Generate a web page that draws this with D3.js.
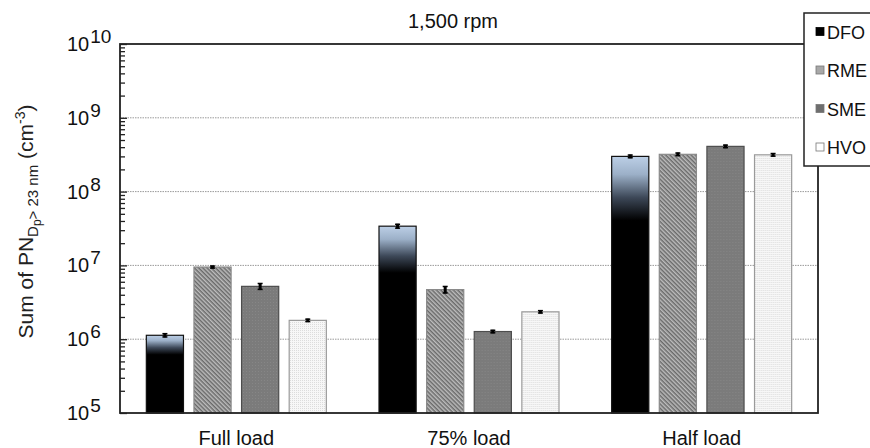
<!DOCTYPE html>
<html>
<head>
<meta charset="utf-8">
<script src="https://cdn.jsdelivr.net/npm/d3@7"></script>
<style>
  body { margin: 0; background: #fff; }
  svg { font-family: "Liberation Sans", Arial, sans-serif; }
</style>
</head>
<body>
<div id="chart"></div>
<script>
// loads and fuels
const loads = ["Full load", "75% load", "Half load"];
const fuels = ["DFO", "RME", "SME", "HVO"];

// sum of PN (cm^-3), one array per fuel, in the order of loads
const dfoValues = [1.13e6, 3.4e7, 3.0e8];
const rmeValues = [9.5e6, 4.7e6, 3.2e8];
const smeValues = [5.2e6, 1.27e6, 4.1e8];
const hvoValues = [1.8e6, 2.35e6, 3.15e8];

// error bars (half-width)
const dfoErrors = [0.04e6, 0.15e7, 0.08e8];
const rmeErrors = [0.15e6, 0.4e6, 0.08e8];
const smeErrors = [0.4e6, 0.03e6, 0.1e8];
const hvoErrors = [0.04e6, 0.05e6, 0.08e8];

const yTicks = [1e5, 1e6, 1e7, 1e8, 1e9, 1e10];

const width = 870;
const height = 448;
const margin = {top: 44, right: 52, bottom: 35, left: 120};
const plotW = width - margin.left - margin.right;
const plotH = height - margin.top - margin.bottom;

const valuesByFuel = {DFO: dfoValues, RME: rmeValues, SME: smeValues, HVO: hvoValues};
const errorsByFuel = {DFO: dfoErrors, RME: rmeErrors, SME: smeErrors, HVO: hvoErrors};

const data = [];
loads.forEach((load, i) => {
  fuels.forEach((fuel) => {
    data.push({load: load, fuel: fuel, value: valuesByFuel[fuel][i], err: errorsByFuel[fuel][i]});
  });
});

const svg = d3.select("#chart")
  .append("svg")
  .attr("width", width)
  .attr("height", height);

const defs = svg.append("defs");

// DFO: light blue top fading into black
const grad = defs.append("linearGradient")
  .attr("id", "dfoGrad")
  .attr("x1", 0).attr("y1", 0).attr("x2", 0).attr("y2", 1);
grad.append("stop").attr("offset", "0%").attr("stop-color", "#bccfe6");
grad.append("stop").attr("offset", "7%").attr("stop-color", "#9cb0c8");
grad.append("stop").attr("offset", "16%").attr("stop-color", "#3d4858");
grad.append("stop").attr("offset", "25%").attr("stop-color", "#000");
grad.append("stop").attr("offset", "100%").attr("stop-color", "#000");

// RME: fine diagonal hatch
const hatch = defs.append("pattern")
  .attr("id", "rmeHatch")
  .attr("patternUnits", "userSpaceOnUse")
  .attr("width", 3).attr("height", 3)
  .attr("patternTransform", "rotate(45)");
hatch.append("rect").attr("width", 3).attr("height", 3).attr("fill", "#bdbdbd");
hatch.append("rect").attr("width", 3).attr("height", 1.5).attr("fill", "#6a6a6a");

// SME: dark grey with faint texture
const smePat = defs.append("pattern")
  .attr("id", "smeTex")
  .attr("patternUnits", "userSpaceOnUse")
  .attr("width", 3).attr("height", 3);
smePat.append("rect").attr("width", 3).attr("height", 3).attr("fill", "#7b7b7b");
smePat.append("rect").attr("width", 1).attr("height", 1).attr("fill", "#868686");

// HVO: almost white with fine dots
const hvoPat = defs.append("pattern")
  .attr("id", "hvoDots")
  .attr("patternUnits", "userSpaceOnUse")
  .attr("width", 2).attr("height", 2);
hvoPat.append("rect").attr("width", 2).attr("height", 2).attr("fill", "#f7f7f7");
hvoPat.append("rect").attr("width", 1).attr("height", 1).attr("fill", "#dcdcdc");

const fillOf = {DFO: "url(#dfoGrad)", RME: "url(#rmeHatch)", SME: "url(#smeTex)", HVO: "url(#hvoDots)"};
const strokeOf = {DFO: "#111", RME: "#8a8a8a", SME: "#4d4d4d", HVO: "#9a9a9a"};
const swatchOf = {DFO: "#000", RME: "#a8a8a8", SME: "#6e6e6e", HVO: "#fff"};

const g = svg.append("g")
  .attr("transform", `translate(${margin.left},${margin.top})`);

// scales
const x0 = d3.scaleBand().domain(loads).range([0, plotW]).padding(0);
const groupSpan = 180;
const x1 = d3.scaleBand()
  .domain(fuels)
  .range([(x0.bandwidth() - groupSpan) / 2, (x0.bandwidth() + groupSpan) / 2])
  .paddingInner(0.22)
  .paddingOuter(0);
const y = d3.scaleLog().domain([1e5, 1e10]).range([plotH, 0]);

// grid lines
g.append("g")
  .selectAll("line")
  .data(yTicks.slice(1, -1))
  .join("line")
  .attr("x1", 0)
  .attr("x2", plotW)
  .attr("y1", (d) => y(d))
  .attr("y2", (d) => y(d))
  .attr("stroke", "#9a9a9a")
  .attr("stroke-width", 1)
  .attr("stroke-dasharray", "1.5,1");

// bars
const groups = g.selectAll(".group")
  .data(loads)
  .join("g")
  .attr("class", "group")
  .attr("transform", (d) => `translate(${x0(d)},0)`);

groups.selectAll("rect")
  .data((load) => data.filter((d) => d.load === load))
  .join("rect")
  .attr("x", (d) => x1(d.fuel))
  .attr("y", (d) => y(d.value))
  .attr("width", x1.bandwidth())
  .attr("height", (d) => plotH - y(d.value))
  .attr("fill", (d) => fillOf[d.fuel])
  .attr("stroke", (d) => strokeOf[d.fuel])
  .attr("stroke-width", 1.2);

// error bars
const errG = groups.selectAll(".err")
  .data((load) => data.filter((d) => d.load === load))
  .join("g")
  .attr("class", "err")
  .attr("transform", (d) => `translate(${x1(d.fuel) + x1.bandwidth() / 2},0)`);

errG.append("line")
  .attr("y1", (d) => y(d.value + d.err) - 1)
  .attr("y2", (d) => y(d.value - d.err) + 1)
  .attr("stroke", "#000")
  .attr("stroke-width", 3);
errG.append("line")
  .attr("x1", -2.5).attr("x2", 2.5)
  .attr("y1", (d) => y(d.value + d.err) - 0.5)
  .attr("y2", (d) => y(d.value + d.err) - 0.5)
  .attr("stroke", "#000")
  .attr("stroke-width", 1.5);
errG.append("line")
  .attr("x1", -2.5).attr("x2", 2.5)
  .attr("y1", (d) => y(d.value - d.err) + 0.5)
  .attr("y2", (d) => y(d.value - d.err) + 0.5)
  .attr("stroke", "#000")
  .attr("stroke-width", 1.5);

// y axis: ticks pointing inward (minor + major)
const minorTicks = y.ticks().filter((t) => yTicks.indexOf(t) < 0);
g.append("g")
  .call(d3.axisLeft(y).tickValues(minorTicks).tickSize(-5).tickFormat(""))
  .call((a) => a.select(".domain").remove())
  .call((a) => a.selectAll("line").attr("stroke", "#222").attr("stroke-width", 1.3));
g.append("g")
  .call(d3.axisLeft(y).tickValues(yTicks).tickSize(-7).tickFormat(""))
  .call((a) => a.select(".domain").remove())
  .call((a) => a.selectAll("line").attr("stroke", "#222").attr("stroke-width", 1.3));

// y tick labels 10^n
const yLabels = g.append("g");
yTicks.forEach((t) => {
  const txt = yLabels.append("text")
    .attr("x", -53)
    .attr("y", y(t) + 7)
    .attr("font-size", 20)
    .attr("fill", "#111");
  txt.append("tspan").text("10");
  txt.append("tspan")
    .attr("dy", -8)
    .attr("dx", 1)
    .attr("font-size", 19)
    .text(Math.round(Math.log10(t)));
});

// frame
g.append("rect")
  .attr("x", 0)
  .attr("y", 0)
  .attr("width", plotW)
  .attr("height", plotH)
  .attr("fill", "none")
  .attr("stroke", "#222")
  .attr("stroke-width", 1.8);

// x category labels
g.append("g")
  .selectAll("text")
  .data(loads)
  .join("text")
  .attr("x", (d) => x0(d) + x0.bandwidth() / 2)
  .attr("y", plotH + 32)
  .attr("text-anchor", "middle")
  .attr("font-size", 20)
  .attr("fill", "#111")
  .text((d) => d);

// title
svg.append("text")
  .attr("x", 453)
  .attr("y", 28)
  .attr("text-anchor", "middle")
  .attr("font-size", 20)
  .attr("fill", "#111")
  .text("1,500 rpm");

// y axis title
const yTitle = svg.append("text")
  .attr("transform", `translate(33,${margin.top + plotH / 2 - 7}) rotate(-90)`)
  .attr("text-anchor", "middle")
  .attr("font-size", 21)
  .attr("fill", "#222");
yTitle.append("tspan").text("Sum of PN");
yTitle.append("tspan").attr("font-size", 15).attr("dy", 5).text("D");
yTitle.append("tspan").attr("font-size", 12).attr("dy", 3).text("p");
yTitle.append("tspan").attr("font-size", 15).attr("dy", -3).text("> 23 nm");
yTitle.append("tspan").attr("dy", -5).text(" (cm");
yTitle.append("tspan").attr("font-size", 14).attr("dy", -8).text("-3");
yTitle.append("tspan").attr("dy", 8).text(")");

// legend
const legend = svg.append("g").attr("transform", "translate(804,13)");
legend.append("rect")
  .attr("width", 80)
  .attr("height", 153)
  .attr("fill", "#fff")
  .attr("stroke", "#222")
  .attr("stroke-width", 1.5);

const legendItems = legend.selectAll(".item")
  .data(fuels)
  .join("g")
  .attr("class", "item")
  .attr("transform", (d, i) => `translate(12,${19 + i * 38.5})`);

legendItems.append("rect")
  .attr("x", 0)
  .attr("y", -4.5)
  .attr("width", 8)
  .attr("height", 8)
  .attr("fill", (d) => swatchOf[d])
  .attr("stroke", (d) => (d === "DFO" ? "#000" : "#777"))
  .attr("stroke-width", 0.8);

legendItems.append("text")
  .attr("x", 11)
  .attr("y", 6.5)
  .attr("font-size", 18)
  .attr("fill", "#111")
  .text((d) => d);
</script>
</body>
</html>
